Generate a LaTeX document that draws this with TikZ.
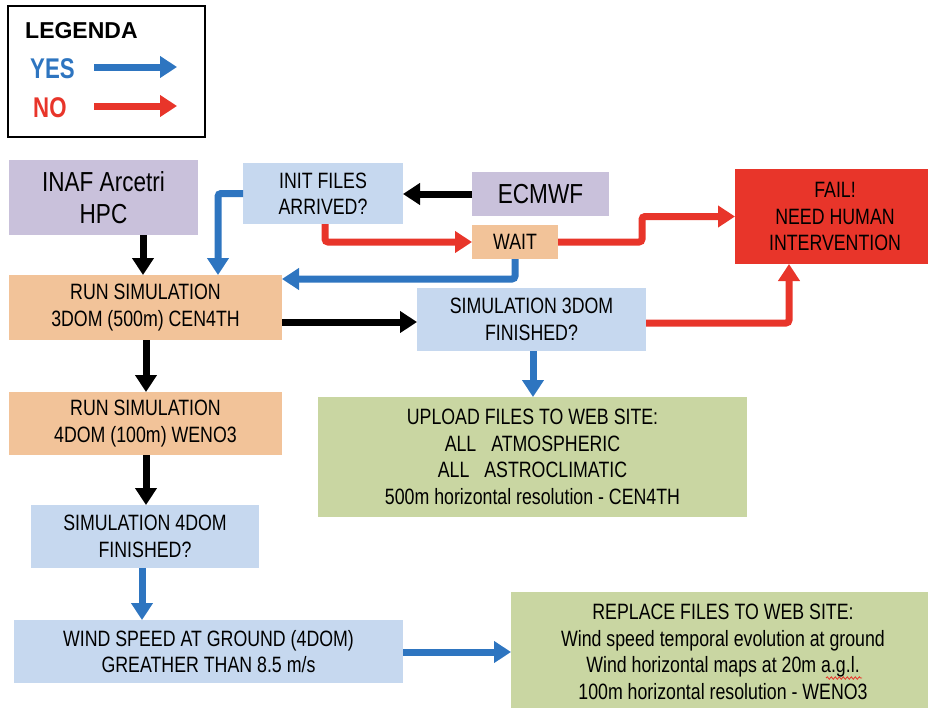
\documentclass[tikz,border=0pt]{standalone}
\usepackage{fontspec}
\setmainfont{Liberation Sans}
\newfontfamily\condfont[FakeStretch=0.8]{Liberation Sans}
\newfontfamily\bigfont[FakeStretch=0.82]{Liberation Sans}
\newfontfamily\legfont[FakeStretch=0.78]{Liberation Sans}
\usetikzlibrary{arrows.meta,decorations.pathmorphing}
\definecolor{cpurple}{HTML}{C9C1DB}
\definecolor{cblue}{HTML}{C6D8EF}
\definecolor{corange}{HTML}{F2C399}
\definecolor{cgreen}{HTML}{C9D6A2}
\definecolor{cred}{HTML}{E8352A}
\definecolor{ayes}{HTML}{2E75C0}
\definecolor{ano}{HTML}{E8352A}
\begin{document}
\begin{tikzpicture}[x=1pt,y=-1pt,
  box/.style={inner sep=0pt, outer sep=0pt, align=center, font=\condfont\fontsize{22.2}{26.5}\selectfont},
  bigbox/.style={box, font=\bigfont\fontsize{27.5}{32}\selectfont},
  arr/.style={line width=7pt, -{Triangle[width=21pt,length=17pt]}},
  yesarr/.style={arr, draw=ayes, color=ayes},
  noarr/.style={arr, draw=ano, color=ano},
  blkarr/.style={arr, draw=black},
  legtxt/.style={anchor=west, inner sep=0pt, font=\legfont\bfseries\fontsize{28.5}{30}\selectfont}]
\useasboundingbox (0,0) rectangle (928,707);

% legend
\node[draw, line width=2.5pt, minimum width=197pt, minimum height=131pt, inner sep=0pt] (legend) at (106.5,71.5) {};
\node[anchor=west, inner sep=0pt, font=\bfseries\fontsize{23}{26}\selectfont] (legtitle) at (25,31) {LEGENDA};
\node[legtxt, text=ayes] (legyes) at (30,69) {YES};
\node[legtxt, text=ano] (legno) at (33,108) {NO};
\coordinate (ya) at (94,67);
\coordinate (yb) at (177,67);
\coordinate (na) at (94,106);
\coordinate (nb) at (177,106);
\draw[yesarr] (ya) -- (yb);
\draw[noarr] (na) -- (nb);

% boxes
\node[bigbox, fill=cpurple, minimum width=189pt, minimum height=75pt] (inaf) at (103.5,197.5) {INAF Arcetri\\HPC};
\node[box, fill=cblue, minimum width=160pt, minimum height=61pt] (init) at (323,193.5) {INIT FILES\\ARRIVED?};
\node[bigbox, fill=cpurple, minimum width=137pt, minimum height=44pt] (ecmwf) at (540.5,194) {ECMWF};
\node[box, fill=corange, minimum width=86pt, minimum height=34pt] (wait) at (515,242) {WAIT};
\node[box, fill=cred, minimum width=200pt, minimum height=95pt] (fail) at (835,216.5) {FAIL!\\NEED HUMAN\\INTERVENTION};
\node[box, fill=corange, minimum width=273pt, minimum height=65pt] (run3) at (145.5,307.5) {RUN SIMULATION\\3DOM (500m) CEN4TH};
\node[box, fill=cblue, minimum width=229pt, minimum height=63pt] (sim3) at (531.5,319.5) {SIMULATION 3DOM\\FINISHED?};
\node[box, fill=cgreen, minimum width=429pt, minimum height=120pt] (upload) at (532.5,457) {UPLOAD FILES TO WEB SITE:\\ALL\hspace{10pt} ATMOSPHERIC\\ALL\hspace{10pt} ASTROCLIMATIC\\500m horizontal resolution - CEN4TH};
\node[box, fill=corange, minimum width=273pt, minimum height=63pt] (run4) at (145.5,423.5) {RUN SIMULATION\\4DOM (100m) WENO3};
\node[box, fill=cblue, minimum width=228pt, minimum height=63pt] (sim4) at (145,536.5) {SIMULATION 4DOM\\FINISHED?};
\node[box, fill=cblue, minimum width=389pt, minimum height=63pt] (wind) at (208.5,651.5) {WIND SPEED AT GROUND (4DOM)\\GREATHER THAN 8.5 m/s};
\node[box, fill=cgreen, minimum width=424pt, minimum height=120pt] (replace) at (723,652) {REPLACE FILES TO WEB SITE:\\Wind speed temporal evolution at ground\\Wind horizontal maps at 20m a.g.l.\\100m horizontal resolution - WENO3};

% spell-check squiggle under a.g.l.
\coordinate (sq1) at (826,678);
\coordinate (sq2) at (862,678);
\draw[ano, line width=0.8pt, decorate, decoration={snake, amplitude=1.2pt, segment length=4pt}] (sq1) -- (sq2);

% helper coordinates
\coordinate (xin) at (218,0);
\coordinate (xno) at (325,0);
\coordinate (xup) at (642,0);
\coordinate (ywr) at (0,279);
\coordinate (xa) at (143,0);
\coordinate (yrs) at (0,322);
\coordinate (ysf) at (0,323);
\coordinate (xf) at (789,0);
\coordinate (xs) at (533,0);
\coordinate (xb) at (146,0);
\coordinate (xc) at (142,0);
\coordinate (yw) at (0,652);

% connectors
\draw[blkarr] (ecmwf.west) -- (ecmwf.west -| init.east);
\draw[yesarr, rounded corners=3pt] (init.west) -| (run3.north -| xin);
\draw[noarr, rounded corners=3pt] (init.south -| xno) |- (wait.west);
\draw[noarr, rounded corners=3pt] (wait.east) -- (wait.east -| xup) -- (xup |- fail.west) -- (fail.west);
\draw[yesarr, rounded corners=3pt] (wait.south) |- (run3.east |- ywr);
\draw[blkarr] (inaf.south -| xa) -- (run3.north -| xa);
\draw[blkarr] (run3.east |- yrs) -- (sim3.west |- yrs);
\draw[noarr, rounded corners=3pt] (sim3.east |- ysf) -| (fail.south -| xf);
\draw[yesarr] (sim3.south -| xs) -- (upload.north -| xs);
\draw[blkarr] (run3.south -| xb) -- (run4.north -| xb);
\draw[blkarr] (run4.south -| xb) -- (sim4.north -| xb);
\draw[yesarr] (sim4.south -| xc) -- (wind.north -| xc);
\draw[yesarr] (wind.east |- yw) -- (replace.west |- yw);
\end{tikzpicture}
\end{document}
